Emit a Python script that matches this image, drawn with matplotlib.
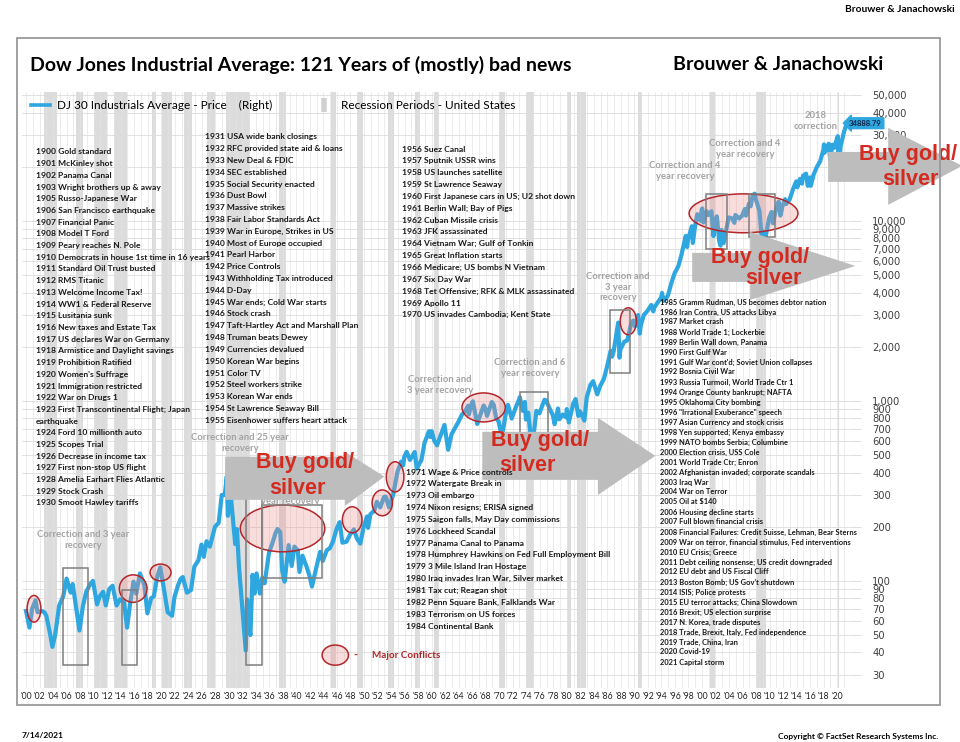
import matplotlib
matplotlib.use("Agg")
import matplotlib.pyplot as plt
import matplotlib.patches as mpatches
from matplotlib.lines import Line2D
from matplotlib.ticker import NullLocator
import numpy as np

# DJIA price, turning points (year, price)
dj_year = [1900.0, 1900.5, 1900.9, 1901.4, 1901.7, 1902.3, 1902.7, 1903.0, 1903.5, 1903.9,
           1904.3, 1904.9, 1905.5, 1906.0, 1906.6, 1906.9, 1907.3, 1907.9, 1908.4, 1908.9,
           1909.5, 1909.9, 1910.5, 1910.9, 1911.4, 1911.8, 1912.3, 1912.8, 1913.4, 1913.9,
           1914.5, 1914.95, 1915.4, 1915.9, 1916.3, 1916.85, 1917.5, 1917.95, 1918.5, 1918.9,
           1919.4, 1919.85, 1920.4, 1920.95, 1921.6, 1921.95, 1922.5, 1922.9, 1923.2, 1923.8,
           1924.4, 1924.9, 1925.5, 1925.95, 1926.3, 1926.7, 1927.2, 1927.95, 1928.5, 1928.95,
           1929.4, 1929.7, 1929.85, 1930.3, 1930.95, 1931.2, 1931.5, 1931.95, 1932.5, 1932.7,
           1932.95, 1933.2, 1933.5, 1933.8, 1934.1, 1934.6, 1934.95, 1935.3, 1935.95, 1936.4,
           1936.9, 1937.2, 1937.6, 1937.9, 1938.25, 1938.85, 1939.3, 1939.7, 1940.2, 1940.45,
           1940.9, 1941.5, 1941.95, 1942.3, 1942.95, 1943.5, 1943.9, 1944.5, 1944.95, 1945.4,
           1945.95, 1946.4, 1946.8, 1947.4, 1947.95, 1948.5, 1948.95, 1949.45, 1949.95, 1950.45,
           1950.6, 1950.95, 1951.5, 1951.9, 1952.4, 1952.95, 1953.2, 1953.7, 1954.3, 1954.95,
           1955.5, 1955.8, 1955.95, 1956.3, 1956.8, 1957.5, 1957.8, 1958.5, 1958.95, 1959.6,
           1959.8, 1960.0, 1960.4, 1960.8, 1961.9, 1962.45, 1962.95, 1963.5, 1963.95, 1964.5,
           1964.95, 1965.4, 1965.5, 1965.95, 1966.1, 1966.75, 1966.95, 1967.7, 1967.95, 1968.2,
           1968.9, 1969.2, 1969.55, 1969.9, 1970.4, 1970.95, 1971.3, 1971.85, 1972.5, 1972.95,
           1973.05, 1973.5, 1973.8, 1973.95, 1974.3, 1974.75, 1974.95, 1975.5, 1975.95, 1976.7,
           1976.95, 1977.5, 1977.95, 1978.2, 1978.7, 1978.9, 1979.4, 1979.9, 1980.0, 1980.3,
           1980.95, 1981.3, 1981.7, 1981.95, 1982.6, 1982.95, 1983.5, 1983.9, 1984.5, 1984.95,
           1985.5, 1985.95, 1986.5, 1986.7, 1986.95, 1987.6, 1987.8, 1987.95, 1988.5, 1988.95,
           1989.5, 1989.8, 1989.95, 1990.1, 1990.55, 1990.8, 1990.95, 1991.4, 1991.95, 1992.5,
           1992.8, 1992.95, 1993.5, 1993.95, 1994.1, 1994.3, 1994.95, 1995.5, 1995.95, 1996.5,
           1996.95, 1997.6, 1997.8, 1997.95, 1998.5, 1998.65, 1998.95, 1999.3, 1999.8, 1999.95,
           2000.05, 2000.2, 2000.7, 2000.95, 2001.4, 2001.7, 2001.95, 2002.2, 2002.55, 2002.75,
           2002.9, 2003.2, 2003.95, 2004.5, 2004.8, 2004.95, 2005.5, 2005.95, 2006.35, 2006.5,
           2006.95, 2007.2, 2007.5, 2007.8, 2007.95, 2008.5, 2008.8, 2008.95, 2009.18, 2009.5,
           2009.95, 2010.3, 2010.5, 2010.95, 2011.35, 2011.6, 2011.95, 2012.3, 2012.45, 2012.95,
           2013.5, 2013.95, 2014.1, 2014.5, 2014.8, 2014.95, 2015.4, 2015.65, 2015.95, 2016.1,
           2016.5, 2016.95, 2017.5, 2017.95, 2018.05, 2018.1, 2018.75, 2018.97, 2019.3, 2019.6,
           2019.95, 2020.1, 2020.22, 2020.5, 2020.95, 2021.3, 2021.53]
dj_price = [68, 55, 70, 78, 67, 68, 67, 64, 52, 43,
            50, 73, 82, 103, 86, 96, 76, 53, 72, 87,
            96, 100, 74, 82, 87, 73, 90, 94, 73, 79,
            76, 55, 75, 99, 85, 110, 95, 66, 80, 82,
            105, 119, 90, 67, 64, 81, 95, 103, 105, 86,
            89, 120, 130, 159, 136, 166, 155, 200, 210, 300,
            300, 381, 230, 294, 160, 194, 120, 74, 41, 79,
            56, 50, 108, 85, 110, 85, 104, 97, 144, 160,
            184, 194, 187, 114, 99, 158, 121, 155, 148, 112,
            138, 120, 106, 93, 119, 145, 129, 148, 152, 165,
            195, 212, 163, 165, 181, 193, 172, 161, 200, 228,
            197, 235, 245, 275, 256, 292, 294, 256, 300, 404,
            460, 438, 488, 521, 470, 520, 420, 470, 584, 678,
            630, 679, 600, 566, 735, 535, 652, 710, 763, 840,
            874, 940, 840, 969, 995, 744, 786, 943, 905, 825,
            985, 950, 800, 770, 631, 839, 950, 798, 930, 1020,
            1051, 880, 987, 788, 860, 585, 577, 880, 852, 1014,
            1004, 900, 831, 742, 907, 790, 840, 810, 900, 759,
            964, 1024, 824, 875, 777, 1046, 1230, 1287, 1086, 1211,
            1330, 1546, 1900, 1760, 1895, 2722, 1738, 1938, 2130, 2168,
            2660, 2791, 2753, 2590, 2999, 2365, 2633, 3000, 3168, 3410,
            3140, 3301, 3540, 3754, 3978, 3590, 3834, 4550, 5117, 5600,
            6448, 8250, 7160, 7908, 9337, 7539, 9181, 10900, 10020, 11497,
            11723, 9800, 11310, 10787, 11300, 8236, 10021, 10600, 7700, 7286,
            8900, 7524, 10453, 10300, 9750, 10783, 10300, 10717, 11640, 10700,
            12463, 12050, 13900, 14164, 13264, 11350, 8450, 8776, 6547, 8500,
            10428, 11200, 9700, 11577, 12800, 10700, 12217, 13200, 12400, 13104,
            15100, 16576, 15370, 17100, 16100, 17823, 18300, 15660, 17425, 15660,
            18000, 19762, 21500, 24719, 26600, 23860, 26828, 21792, 26500, 25500,
            28538, 29552, 18591, 25800, 30606, 33800, 34888.79]

# US recession periods (start, end)
recessions = [(1902.7, 1904.6), (1907.4, 1908.45), (1910.05, 1912.0), (1913.0, 1914.95),
              (1918.6, 1919.2), (1920.05, 1921.55), (1923.4, 1924.55), (1926.8, 1927.9),
              (1929.6, 1933.2), (1937.4, 1938.45), (1945.1, 1945.8), (1948.9, 1949.8),
              (1953.5, 1954.4), (1957.6, 1958.3), (1960.3, 1961.1), (1969.9, 1970.9),
              (1973.9, 1975.2), (1980.0, 1980.55), (1981.55, 1982.9), (1990.55, 1991.2),
              (2001.2, 2001.9), (2007.95, 2009.5), (2020.1, 2020.3)]

y_ticks = [30, 40, 50, 60, 70, 80, 90, 100, 200, 300, 400, 500, 600, 700, 800, 900,
           1000, 2000, 3000, 4000, 5000, 6000, 7000, 8000, 9000, 10000, 20000, 30000,
           40000, 50000]
y_hidden = [20000]  # sits under the top-right arrow in the reference
x_ticks = list(range(1900, 2021, 2))
x_labels = ["'%02d" % (y % 100) for y in x_ticks]

events_1900 = ["1900 Gold standard", "1901 McKinley shot", "1902 Panama Canal",
               "1903 Wright brothers up & away", "1905 Russo-Japanese War",
               "1906 San Francisco earthquake", "1907 Financial Panic", "1908 Model T Ford",
               "1909 Peary reaches N. Pole", "1910 Democrats in house 1st time in 16 years",
               "1911 Standard Oil Trust busted", "1912 RMS Titanic", "1913 Welcome Income Tax!",
               "1914 WW1 & Federal Reserve", "1915 Lusitania sunk",
               "1916 New taxes and Estate Tax", "1917 US declares War on Germany",
               "1918 Armistice and Daylight savings", "1919 Prohibition Ratified",
               "1920 Women's Suffrage", "1921 Immigration restricted", "1922 War on Drugs 1",
               "1923 First Transcontinental Flight; Japan", "earthquake",
               "1924 Ford 10 millionth auto", "1925 Scopes Trial", "1926 Decrease in income tax",
               "1927 First non-stop US flight", "1928 Amelia Earhart Flies Atlantic",
               "1929 Stock Crash", "1930 Smoot Hawley tariffs"]
events_1931 = ["1931 USA wide bank closings", "1932 RFC provided state aid & loans",
               "1933 New Deal & FDIC", "1934 SEC established", "1935 Social Security enacted",
               "1936 Dust Bowl", "1937 Massive strikes", "1938 Fair Labor Standards Act",
               "1939 War in Europe, Strikes in US", "1940 Most of Europe occupied",
               "1941 Pearl Harbor", "1942 Price Controls", "1943 Withholding Tax introduced",
               "1944 D-Day", "1945 War ends; Cold War starts", "1946 Stock crash",
               "1947 Taft-Hartley Act and Marshall Plan", "1948 Truman beats Dewey",
               "1949 Currencies devalued", "1950 Korean War begins", "1951 Color TV",
               "1952 Steel workers strike", "1953 Korean War ends",
               "1954 St Lawrence Seaway Bill", "1955 Eisenhower suffers heart attack"]
events_1956 = ["1956 Suez Canal", "1957 Sputnik USSR wins", "1958 US launches satellite",
               "1959 St Lawrence Seaway", "1960 First Japanese cars in US; U2 shot down",
               "1961 Berlin Wall; Bay of Pigs", "1962 Cuban Missile crisis",
               "1963 JFK assassinated", "1964 Vietnam War; Gulf of Tonkin",
               "1965 Great Inflation starts", "1966 Medicare; US bombs N Vietnam",
               "1967 Six Day War", "1968 Tet Offensive; RFK & MLK assassinated",
               "1969 Apollo 11", "1970 US invades Cambodia; Kent State"]
events_1971 = ["1971 Wage & Price controls", "1972 Watergate Break in", "1973 Oil embargo",
               "1974 Nixon resigns; ERISA signed", "1975 Saigon falls, May Day commissions",
               "1976 Lockheed Scandal", "1977 Panama Canal to Panama",
               "1978 Humphrey Hawkins on Fed Full Employment Bill",
               "1979 3 Mile Island Iran Hostage", "1980 Iraq invades Iran War, Silver market",
               "1981 Tax cut; Reagan shot", "1982 Penn Square Bank, Falklands War",
               "1983 Terrorism on US forces", "1984 Continental Bank"]
events_1985 = ["1985 Gramm Rudman, US becomes debtor nation", "1986 Iran Contra, US attacks Libya",
               "1987 Market crash", "1988 World Trade 1; Lockerbie", "1989 Berlin Wall down, Panama",
               "1990 First Gulf War", "1991 Gulf War cont'd; Soviet Union collapses",
               "1992 Bosnia Civil War", "1993 Russia Turmoil, World Trade Ctr 1",
               "1994 Orange County bankrupt; NAFTA", "1995 Oklahoma City bombing",
               "1996 \"Irrational Exuberance\" speech", "1997 Asian Currency and stock crisis",
               "1998 Yen supported; Kenya embassy", "1999 NATO bombs Serbia; Columbine",
               "2000 Election crisis, USS Cole", "2001 World Trade Ctr; Enron",
               "2002 Afghanistan invaded; corporate scandals", "2003 Iraq War",
               "2004 War on Terror", "2005 Oil at $140", "2006 Housing decline starts",
               "2007 Full blown financial crisis",
               "2008 Financial Failures: Credit Suisse, Lehman, Bear Sterns",
               "2009 War on terror, financial stimulus, Fed interventions",
               "2010 EU Crisis; Greece", "2011 Debt ceiling nonsense; US credit downgraded",
               "2012 EU debt and US Fiscal Cliff", "2013 Boston Bomb; US Gov't shutdown",
               "2014 ISIS; Police protests", "2015 EU terror attacks; China Slowdown",
               "2016 Brexit; US election surprise", "2017 N. Korea, trade disputes",
               "2018 Trade, Brexit, Italy, Fed independence", "2019 Trade, China, Iran",
               "2020 Covid-19", "2021 Capital storm"]

# conflict ovals: (year from, year to, price low, price high)
conflict_ovals = [(1900.15, 1902.2, 59, 83), (1913.8, 1917.9, 76, 108),
                  (1918.35, 1921.45, 100, 124), (1931.7, 1944.2, 145, 264),
                  (1946.8, 1949.7, 185, 258), (1951.2, 1954.2, 230, 320),
                  (1953.3, 1955.9, 312, 459), (1964.5, 1970.9, 764, 1107),
                  (1987.9, 1990.3, 2330, 3290), (1998.1, 2014.2, 8590, 14125)]
# correction boxes: (year from, year to, price low, price high)
correction_boxes = [(1905.5, 1909.2, 34, 118), (1914.2, 1916.4, 34, 89),
                    (1932.55, 1934.9, 34, 470), (1934.9, 1943.8, 104, 264),
                    (1973.1, 1977.2, 570, 1120), (1986.4, 1989.4, 1430, 3200),
                    (2000.6, 2003.7, 6990, 14125), (2007.0, 2010.8, 8150, 14125)]
# "Buy gold/silver" arrows: body (x0, x1, low, high), head (x0, apex x, low, apex, high)
buy_bodies = [(1929.45, 1947.2, 282, 489), (1967.5, 1984.6, 364, 673),
              (1998.55, 2007.13, 4580, 6640), (2018.67, 2027.55, 16470, 24150)]
buy_heads = [(1947.2, 1953.0, 261, 380, 521), (1984.6, 1993.1, 300, 495, 805),
             (2007.13, 2022.7, 3640, 5620, 8690), (2027.55, 2038.5, 12270, 20200, 32860)]
buy_text = [(1941.3, 453, 1940.2, 324), (1976.0, 600, 1974.1, 435),
            (2008.6, 6230, 2010.5, 4760), (2030.5, 23300, 2030.8, 16900)]
conflict_key = (1943.8, 1947.7, 34, 44)

corrections = [("Correction and 3 year\nrecovery", 83, 540),
               ("Correction and 25 year\nrecovery", 240, 443),
               ("Correction and 4\nyear recovery", 290, 496),
               ("Correction and\n3 year recovery", 440, 385),
               ("Correction and 6\nyear recovery", 530, 368),
               ("Correction and\n3 year\nrecovery", 618, 287),
               ("Correction and 4\nyear recovery", 685, 171),
               ("Correction and 4\nyear recovery", 745, 149),
               ("2018\ncorrection", 816, 121)]

W, H = 960, 742
BLUE = "#2ea6df"
RED = "#d42a20"
DARK_RED = "#b3262a"
GREY_TXT = "#a3a3a3"
FONT = "Lato"


def fx(x):
    return x / W


def fy(y):
    return 1 - y / H


fig = plt.figure(figsize=(W / 100, H / 100), dpi=100)
ax = fig.add_axes([fx(22), fy(688), 828 / W, 596 / H])

ax.set_yscale("log")
ax.set_xlim(1899.4, 2021.9)
ax.set_ylim(25.4, 52000)

for a, b in recessions:
    ax.axvspan(a, b, color="#dcdcdc", lw=0, zorder=0.3)

ax.plot(dj_year, dj_price, color=BLUE, lw=3.0, zorder=3, solid_joinstyle="round")

# axes styling
for s in ax.spines.values():
    s.set_visible(False)
ax.set_axisbelow(True)
ax.set_xticks(x_ticks)
ax.set_xticklabels(x_labels, fontsize=6.2, family=FONT, color="#222222")
ax.set_xticks(np.arange(1900, 2022, 1), minor=True)
ax.tick_params(axis="x", which="both", length=0, pad=3)
ax.grid(True, axis="x", which="both", color="#e4e4e4", lw=0.5)
ax.yaxis.tick_right()
ax.set_yticks(y_ticks)
ax.set_yticklabels(["" if v in y_hidden else "{:,}".format(v) for v in y_ticks],
                   fontsize=7.2, color="#404040")
ax.yaxis.set_minor_locator(NullLocator())
ax.tick_params(axis="y", length=8, color="#d8d8d8", width=0.6, pad=8)
ax.grid(True, axis="y", which="major", color="#dcdcdc", lw=0.6)


def to_axes(x, y):
    return ax.transAxes.inverted().transform(ax.transData.transform((x, y)))


def oval(x0, x1, v0, v1):
    a0 = to_axes(x0, v0)
    a1 = to_axes(x1, v1)
    return mpatches.Ellipse(((a0[0] + a1[0]) / 2, (a0[1] + a1[1]) / 2),
                            a1[0] - a0[0], a1[1] - a0[1], transform=ax.transAxes,
                            fc=(0.93, 0.55, 0.55, 0.3), ec=DARK_RED, lw=1.1, zorder=4)


for x0, x1, v0, v1 in conflict_ovals:
    ax.add_patch(oval(x0, x1, v0, v1))

for x0, x1, v0, v1 in correction_boxes:
    ax.add_patch(mpatches.Rectangle((x0, v0), x1 - x0, v1 - v0, fill=False,
                                    ec="#7f7f7f", lw=1.1, zorder=4))

for (bx0, bx1, blo, bhi), (hx0, hx1, hlo, hmid, hhi) in zip(buy_bodies, buy_heads):
    pts = [(bx0, blo), (bx0, bhi), (bx1, bhi), (hx0, hhi), (hx1, hmid), (hx0, hlo), (bx1, blo)]
    ax.add_patch(mpatches.Polygon(pts, closed=True, fc="#bdbdbd", ec="none",
                                  zorder=5, clip_on=False))

for x1, v1, x2, v2 in buy_text:
    ax.text(x1, v1, "Buy gold/", ha="center", va="center", color=RED, fontsize=15.5,
            family="Liberation Sans", weight="bold", zorder=6, clip_on=False)
    ax.text(x2, v2, "silver", ha="center", va="center", color=RED, fontsize=15.5,
            family="Liberation Sans", weight="bold", zorder=6, clip_on=False)

for txt, x, y in corrections:
    ax.text(fx(x), fy(y), txt, transform=fig.transFigure, ha="center", va="center",
            fontsize=6.8, family=FONT, weight="bold", color=GREY_TXT, linespacing=1.15,
            zorder=4.5)

# last price label, pointing back at the end of the line
ax.text(2024.2, dj_price[-1], "{:.2f}".format(dj_price[-1]), ha="center", va="center",
        fontsize=5.5, family=FONT, weight="bold", color="#10264a", zorder=7, clip_on=False,
        bbox=dict(boxstyle="larrow,pad=0.25", fc=BLUE, ec=BLUE))

# legend
handles = [Line2D([], [], color=BLUE, lw=2.6),
           Line2D([], [], color="#d0d0d0", marker="|", ms=10, mew=4, ls="none")]
leg = ax.legend(handles, ["DJ 30 Industrials Average - Price    (Right)",
                          "Recession Periods - United States"],
                loc="upper left", bbox_to_anchor=(0.008, 0.99), ncol=2, frameon=False,
                borderaxespad=0, borderpad=0.2, handlelength=1.6, handletextpad=0.6,
                columnspacing=3.6, prop={"family": FONT, "size": 8.5})
leg.set_zorder(8)

# event lists
blocks = [(events_1900, 36, 152, 11.7, 6.1), (events_1931, 205, 137, 11.8, 6.1),
          (events_1956, 402, 149, 11.85, 6.1), (events_1971, 406, 472, 11.85, 6.1),
          (events_1985, 660, 302, 10.0, 5.4)]
for lines, x, y0, dy, fs in blocks:
    for i, line in enumerate(lines):
        fig.text(fx(x), fy(y0 + i * dy), line, ha="left", va="center", fontsize=fs,
                 family=FONT, weight="bold", color="#1a1a1a")

# major conflicts key
ax.add_patch(oval(*conflict_key))
fig.text(fx(355), fy(655), "-", ha="center", va="center", fontsize=8, color=DARK_RED,
         weight="bold", family=FONT)
fig.text(fx(372), fy(655), "Major Conflicts", ha="left", va="center", fontsize=7.2,
         color=DARK_RED, weight="bold", family=FONT)

# titles and frame
fig.text(fx(30), fy(65), "Dow Jones Industrial Average: 121 Years of (mostly) bad news",
         ha="left", va="center", fontsize=14, weight="bold", family=FONT)
fig.text(fx(883), fy(65), "Brouwer & Janachowski", ha="right", va="center", fontsize=14,
         weight="bold", family=FONT)
fig.text(fx(955), fy(10), "Brouwer & Janachowski", ha="right", va="center", fontsize=7.3,
         weight="bold", family=FONT)
fig.text(fx(22), fy(736), "7/14/2021", ha="left", va="center", fontsize=6,
         weight="bold", family=FONT)
fig.text(fx(938), fy(736), "Copyright \u00a9 FactSet Research Systems Inc.", ha="right",
         va="center", fontsize=6, weight="bold", family=FONT)
fig.patches.append(mpatches.Rectangle((fx(17), fy(705)), (940 - 17) / W, (705 - 38) / H,
                                      transform=fig.transFigure, fill=False,
                                      ec="#9a9a9a", lw=1.3, zorder=0))

fig.savefig("out.png", dpi=100)
